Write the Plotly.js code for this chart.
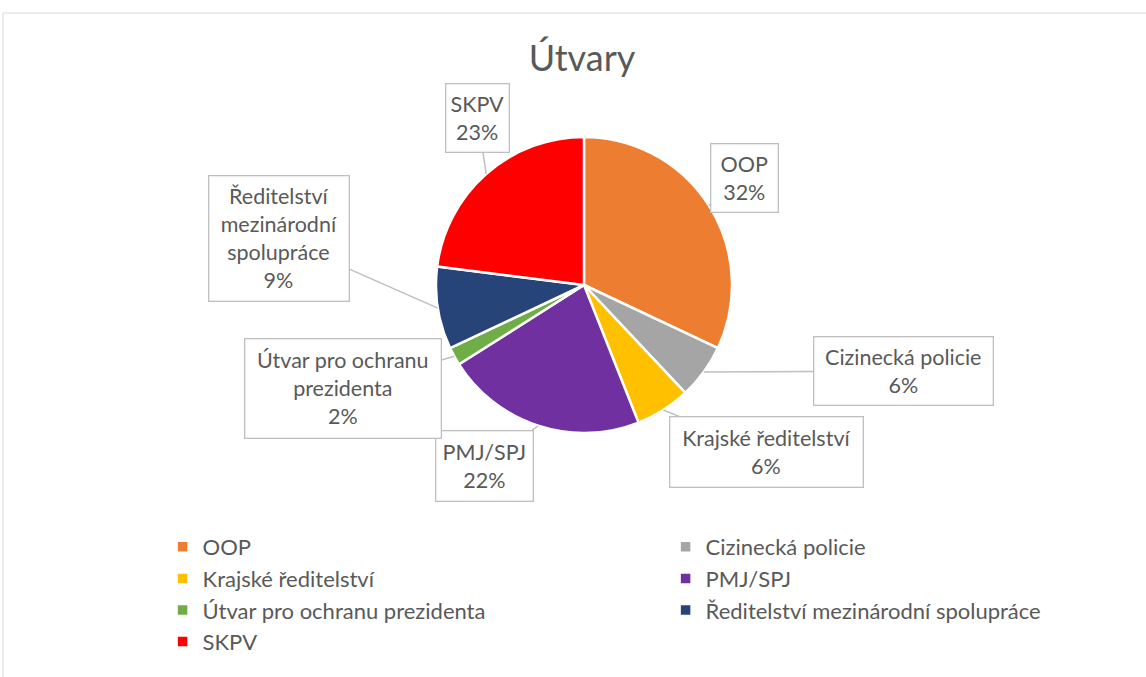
<!DOCTYPE html>
<html><head><meta charset="utf-8">
<script src="https://cdn.plot.ly/plotly-3.0.1.min.js"></script>
<style>html,body{margin:0;padding:0;background:#fff}</style>
</head><body><div id="chart" style="width:1146px;height:677px"></div>
<script>
// ---- data ----
const categories = ["OOP", "Cizinecká policie", "Krajské ředitelství", "PMJ/SPJ", "Útvar pro ochranu prezidenta", "Ředitelství mezinárodní spolupráce", "SKPV"];
const shares = [32, 6, 6, 22, 2, 9, 23];
const calloutNames = ["OOP", "Cizinecká policie", "Krajské ředitelství", "PMJ/SPJ", "Útvar pro ochranu<br>prezidenta", "Ředitelství<br>mezinárodní<br>spolupráce", "SKPV"];
const colors = ["#ED7D31", "#A5A5A5", "#FFC000", "#7030A0", "#70AD47", "#264478", "#FF0000"];

// ---- layout constants (pixels) ----
const W = 1146, H = 677;
const pieBox = {x0: 436, x1: 732, y0: 137, y1: 433};
// callout box centres and sizes
const boxes = [
  {cx: 745, cy: 178, w: 66, h: 67},
  {cx: 904, cy: 371, w: 178, h: 67},
  {cx: 766, cy: 452, w: 192, h: 69},
  {cx: 484, cy: 466, w: 96, h: 69},
  {cx: 343, cy: 388, w: 195, h: 98},
  {cx: 279, cy: 238, w: 139, h: 124},
  {cx: 478, cy: 118, w: 62, h: 67}
];
const txtColor = "#595959";
const fontFam = "Lato, 'Open Sans', sans-serif";
const fs = 21.5;

const total = shares.reduce((a, b) => a + b, 0);
const cxPie = (pieBox.x0 + pieBox.x1) / 2, cyPie = (pieBox.y0 + pieBox.y1) / 2;
const R = Math.min(pieBox.x1 - pieBox.x0, pieBox.y1 - pieBox.y0) / 2;

let cum = 0;
const annotations = shares.map((v, i) => {
  const mid = (cum + v / 2) / total * 2 * Math.PI;
  cum += v;
  const tx = cxPie + R * Math.sin(mid), ty = cyPie - R * Math.cos(mid);
  const b = boxes[i];
  return {
    xref: "paper", yref: "paper",
    x: tx / W, y: 1 - ty / H,
    ax: b.cx - tx, ay: b.cy - ty,
    text: calloutNames[i] + "<br>" + Math.round(v / total * 100) + "%",
    showarrow: true, arrowhead: 0, arrowwidth: 1.5, arrowcolor: "#BFBFBF",
    standoff: 0, startstandoff: 0,
    bordercolor: "#BFBFBF", borderwidth: 1.3, borderpad: 0, bgcolor: "#FFFFFF",
    width: b.w, height: b.h, align: "center", valign: "middle",
    font: {family: fontFam, size: fs, color: txtColor}
  };
});

const trace = {
  type: "pie",
  labels: categories,
  values: shares,
  sort: false,
  direction: "clockwise",
  rotation: 0,
  textinfo: "none",
  hoverinfo: "label+percent",
  marker: {colors: colors, line: {color: "#FFFFFF", width: 2.5}},
  domain: {x: [pieBox.x0 / W, pieBox.x1 / W], y: [1 - pieBox.y1 / H, 1 - pieBox.y0 / H]}
};

const layout = {
  width: W, height: H,
  margin: {l: 0, r: 0, t: 0, b: 0, autoexpand: false},
  paper_bgcolor: "#FFFFFF",
  font: {family: fontFam, color: txtColor},
  title: {text: "Útvary", x: 582 / W, xanchor: "center", y: 1 - 58 / H, yanchor: "middle",
          font: {family: fontFam, size: 36, color: txtColor}},
  showlegend: true,
  legend: {
    orientation: "h", x: 0.10, xanchor: "left", y: 1 - 526 / H, yanchor: "top",
    indentation: 48,
    entrywidth: 410, entrywidthmode: "pixels",
    font: {family: fontFam, size: 22, color: txtColor},
    traceorder: "normal"
  },
  annotations: annotations,
  shapes: [{type: "rect", xref: "paper", yref: "paper", x0: 3 / W, x1: 1.01, y0: -0.02, y1: 1 - 13 / H,
            line: {color: "#D9D9D9", width: 1}, fillcolor: "rgba(0,0,0,0)", layer: "below"}]
};

Plotly.newPlot("chart", [trace], layout, {displayModeBar: false, staticPlot: true});
</script></body></html>
